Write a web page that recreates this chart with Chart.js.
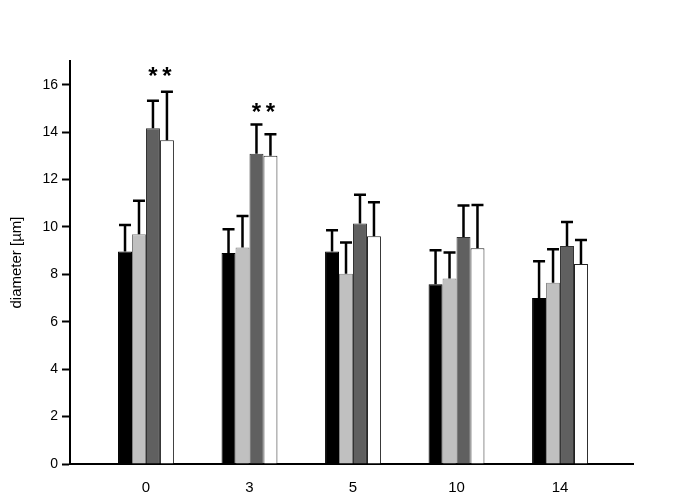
<!DOCTYPE html>
<html><head><meta charset="utf-8">
<script src="https://cdn.jsdelivr.net/npm/chart.js@4"></script>
<style>html,body{margin:0;padding:0;background:#fff}#wrap{width:685px;height:502px}</style>
</head><body><div id="wrap"><canvas id="c" width="685" height="502"></canvas></div>
<script>
const categories = ['0', '3', '5', '10', '14'];
const yTicks = [0, 2, 4, 6, 8, 10, 12, 14, 16];
const seriesA = [8.96, 8.90, 8.96, 7.58, 7.00];
const seriesB = [9.69, 9.13, 8.03, 7.82, 7.65];
const seriesC = [14.16, 13.09, 10.14, 9.58, 9.20];
const seriesD = [13.66, 13.00, 9.61, 9.10, 8.44];
const errA = [1.12, 1.00, 0.90, 1.44, 1.55];
const errB = [1.42, 1.33, 1.31, 1.10, 1.41];
const errC = [1.16, 1.23, 1.22, 1.32, 1.01];
const errD = [2.04, 0.91, 1.43, 1.83, 1.01];
// significance marks: level (in data units) per category, null when none
const starsC = [16.5, 15.0, null, null, null];
const starsD = [16.5, 15.0, null, null, null];

const toXY = arr => arr.map((v, i) => ({x: i, y: v}));
const FONT = "'Liberation Sans', Arial, sans-serif";

const errorPlugin = {
  id: 'errs',
  afterDatasetsDraw(chart) {
    const ctx = chart.ctx, ys = chart.scales.y;
    chart.data.datasets.forEach((ds, di) => {
      const meta = chart.getDatasetMeta(di);
      meta.data.forEach((el, i) => {
        const v = ds.data[i].y, e = ds.errs[i];
        const yTop = ys.getPixelForValue(v + e), yBar = ys.getPixelForValue(v);
        ctx.save();
        ctx.strokeStyle = '#000';
        ctx.lineWidth = 2.5;
        ctx.beginPath();
        ctx.moveTo(el.x, yBar); ctx.lineTo(el.x, yTop);
        ctx.moveTo(el.x - 6, yTop); ctx.lineTo(el.x + 6, yTop);
        ctx.stroke();
        if (ds.stars && ds.stars[i] != null) {
          ctx.fillStyle = '#000';
          ctx.font = 'bold 24px ' + FONT;
          ctx.textAlign = 'center';
          ctx.textBaseline = 'middle';
          ctx.fillText('*', el.x, ys.getPixelForValue(ds.stars[i]) + 5);
        }
        ctx.restore();
      });
    });
  }
};

new Chart(document.getElementById('c'), {
  type: 'bar',
  data: {
    datasets: [
      {data: toXY(seriesA), errs: errA, backgroundColor: '#000000', borderColor: '#000000', borderWidth: 1},
      {data: toXY(seriesB), errs: errB, backgroundColor: '#c0c0c0', borderColor: '#808080', borderWidth: 1},
      {data: toXY(seriesC), errs: errC, stars: starsC, backgroundColor: '#606060', borderColor: '#333333', borderWidth: 1},
      {data: toXY(seriesD), errs: errD, stars: starsD, backgroundColor: '#ffffff', borderColor: '#222222', borderWidth: 1}
    ]
  },
  options: {
    responsive: false,
    animation: false,
    categoryPercentage: 0.54,
    barPercentage: 1.0,
    layout: {padding: {left: 0, right: 52, top: 61, bottom: 0}},
    plugins: {legend: {display: false}, tooltip: {enabled: false}},
    scales: {
      x: {
        type: 'linear',
        min: -0.734, max: 4.705,
        offset: false,
        afterBuildTicks: s => { s.ticks = categories.map((c, i) => ({value: i})); },
        afterFit: s => { s.height = 38; },
        ticks: {
          callback: (v) => categories[v] ?? '',
          color: '#000', font: {family: FONT, size: 15}, padding: 15, maxRotation: 0, autoSkip: false
        },
        grid: {display: false, drawTicks: false},
        border: {display: true, color: '#000', width: 2}
      },
      y: {
        min: 0, max: 17,
        afterBuildTicks: s => { s.ticks = yTicks.map(v => ({value: v})); },
        afterFit: s => { s.width = 70; },
        ticks: {color: '#000', font: {family: FONT, size: 14}, padding: 4, includeBounds: false},
        grid: {display: true, drawOnChartArea: false, drawTicks: true, tickLength: 8, tickColor: '#000', tickWidth: 2},
        border: {display: true, color: '#000', width: 2},
        title: {display: true, text: 'diameter [µm]', color: '#000', font: {family: FONT, size: 15}, padding: {top: 8, bottom: 8}}
      }
    }
  },
  plugins: [errorPlugin]
});
</script>
</body></html>
